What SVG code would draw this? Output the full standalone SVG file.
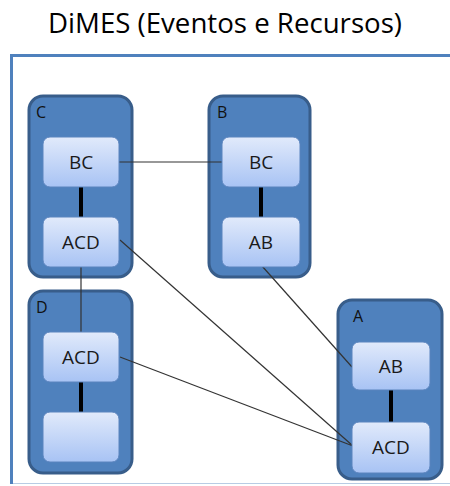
<svg xmlns="http://www.w3.org/2000/svg" width="450" height="486" viewBox="0 0 450 486">
<defs>
<linearGradient id="g" x1="0" y1="0" x2="0" y2="1">
<stop offset="0" stop-color="#E1EAFB"/>
<stop offset="1" stop-color="#A8C3F4"/>
</linearGradient>
<style>
.title{font-family:"Open Sans","Liberation Sans",sans-serif;font-size:27px;fill:#000}
.cont{fill:#4F81BD;stroke:#385D8A;stroke-width:3}
.box{fill:url(#g);stroke:#5B84BE;stroke-width:1}
.lbl{font-family:"Open Sans","Liberation Sans",sans-serif;font-size:19px;fill:#1a1a1a;text-anchor:middle}
.clbl{font-family:"Open Sans","Liberation Sans",sans-serif;font-size:16px;fill:#111}
.thin{stroke:#333;stroke-width:1.2;fill:none}
.thick{stroke:#000;stroke-width:4;fill:none}
</style>
</defs>
<rect width="450" height="486" fill="#fff"/>
<text class="title" x="225" y="33" text-anchor="middle" textLength="354" lengthAdjust="spacingAndGlyphs">DiMES (Eventos e Recursos)</text>
<path d="M11.5 484 V55.5 H452" fill="none" stroke="#4F81BD" stroke-width="3"/>
<line x1="13" y1="483.5" x2="450" y2="483.5" stroke="#B8CCE4" stroke-width="1"/>

<g id="C">
<rect class="cont" x="29" y="96" width="103" height="181" rx="14"/>
<text class="clbl" x="36" y="118">C</text>
</g>
<g id="B">
<rect class="cont" x="209" y="96" width="101" height="181" rx="14"/>
<text class="clbl" x="217" y="118">B</text>
</g>
<g id="D">
<rect class="cont" x="29" y="291" width="103" height="182" rx="14"/>
<text class="clbl" x="36" y="313">D</text>
</g>
<g id="A">
<rect class="cont" x="338" y="300" width="104" height="179" rx="14"/>
<text class="clbl" x="353" y="322">A</text>
</g>

<g id="connectors">
<line class="thin" x1="119" y1="162" x2="222" y2="162"/>
<line class="thin" x1="81" y1="267" x2="81" y2="332"/>
<line class="thin" x1="120" y1="240" x2="353" y2="446"/>
<line class="thin" x1="120" y1="357" x2="353" y2="446"/>
<line class="thin" x1="262" y1="266" x2="352" y2="367"/>
<line class="thick" x1="81" y1="187" x2="81" y2="217"/>
<line class="thick" x1="261" y1="187" x2="261" y2="217"/>
<line class="thick" x1="81" y1="382" x2="81" y2="412"/>
<line class="thick" x1="391" y1="390" x2="391" y2="422"/>
</g>

<g id="C-BC"><rect class="box" x="43" y="137" width="76" height="50" rx="7"/><text class="lbl" x="81" y="169">BC</text></g>
<g id="C-ACD"><rect class="box" x="43" y="217" width="76" height="50" rx="7"/><text class="lbl" x="81" y="249">ACD</text></g>
<g id="B-BC"><rect class="box" x="222" y="137" width="78" height="50" rx="7"/><text class="lbl" x="261" y="169">BC</text></g>
<g id="B-AB"><rect class="box" x="222" y="217" width="78" height="50" rx="7"/><text class="lbl" x="261" y="249">AB</text></g>
<g id="D-ACD"><rect class="box" x="43" y="332" width="76" height="50" rx="7"/><text class="lbl" x="81" y="364">ACD</text></g>
<g id="D-empty"><rect class="box" x="43" y="412" width="76" height="50" rx="7"/></g>
<g id="A-AB"><rect class="box" x="352" y="342" width="78" height="48" rx="7"/><text class="lbl" x="391" y="373">AB</text></g>
<g id="A-ACD"><rect class="box" x="352" y="422" width="78" height="51" rx="7"/><text class="lbl" x="391" y="454">ACD</text></g>
</svg>
